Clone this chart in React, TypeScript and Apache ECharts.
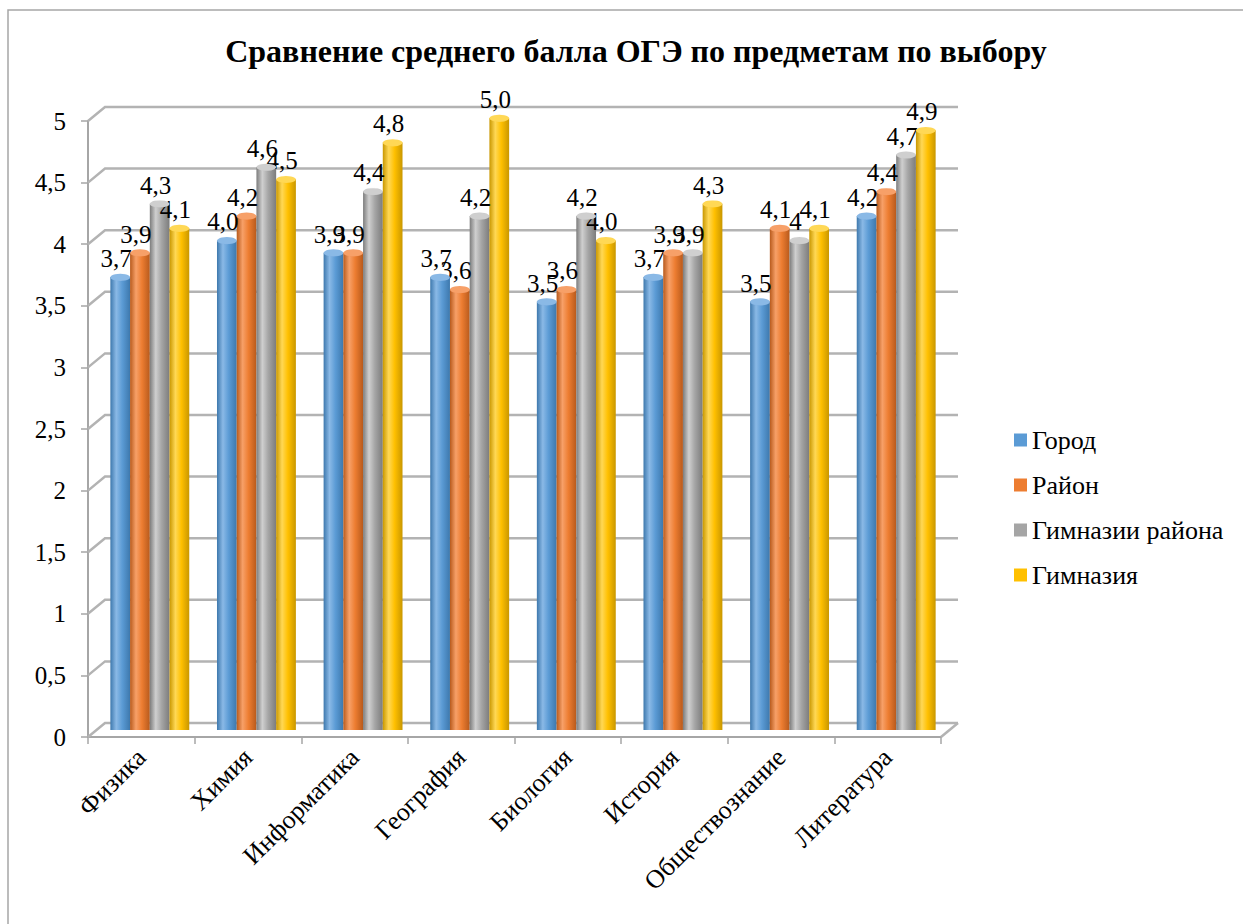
import React, { useEffect, useRef } from "react";
import * as echarts from "echarts";

const categories = ["Физика", "Химия", "Информатика", "География", "Биология", "История", "Обществознание", "Литература"];
const seriesNames = ["Город", "Район", "Гимназии района", "Гимназия"];
const gorod = [3.7, 4.0, 3.9, 3.7, 3.5, 3.7, 3.5, 4.2];
const raion = [3.9, 4.2, 3.9, 3.6, 3.6, 3.9, 4.1, 4.4];
const gymRaiona = [4.3, 4.6, 4.4, 4.2, 4.2, 3.9, 4.0, 4.7];
const gymnasia = [4.1, 4.5, 4.8, 5.0, 4.0, 4.3, 4.1, 4.9];
const yTicks = [0, 0.5, 1, 1.5, 2, 2.5, 3, 3.5, 4, 4.5, 5];
// label shown without decimal in the source
const plainLabel = { series: "Гимназии района", category: "Обществознание" };

const colors = ["#5b9bd5", "#ed7d31", "#a5a5a5", "#ffc000"];
const darks = ["#3d78ad", "#b85a1c", "#7c7c7c", "#c99700"];
const lights = ["#8ab9e6", "#f7a068", "#cfcfcf", "#ffd855"];

const FONT = "Liberation Serif";

export default function App() {
  const ref = useRef<HTMLDivElement>(null);
  useEffect(() => {
    if (!ref.current) return;
    const chart = echarts.init(ref.current, null, { renderer: "svg" });
    const values = [gorod, raion, gymRaiona, gymnasia];
    const OX = 17;
    const OY = -14;

    const barSeries = values.map((vals, i) => ({
      type: "bar",
      name: seriesNames[i],
      xAxisIndex: 1,
      yAxisIndex: 1,
      barGap: "0%",
      barCategoryGap: "26%",
      z: 3,
      data: vals,
      itemStyle: {
        color: {
          type: "linear", x: 0, y: 0, x2: 1, y2: 0,
          colorStops: [
            { offset: 0, color: darks[i] },
            { offset: 0.3, color: lights[i] },
            { offset: 0.6, color: colors[i] },
            { offset: 1, color: darks[i] },
          ],
        },
      },
      label: {
        show: true,
        position: "top",
        distance: 6,
        offset: [-4, 0],
        color: "#000",
        fontFamily: FONT,
        fontSize: 25,
        formatter: (p: any) => {
          if (p.seriesName === plainLabel.series && p.name === plainLabel.category) return String(p.value);
          return Number(p.value).toFixed(1).replace(".", ",");
        },
      },
    }));

    const capSeries = values.map((vals, i) => ({
      type: "pictorialBar",
      name: seriesNames[i],
      xAxisIndex: 1,
      yAxisIndex: 1,
      barGap: "0%",
      barCategoryGap: "26%",
      symbol: "circle",
      symbolSize: ["100%", 7],
      symbolPosition: "end",
      symbolOffset: [0, "-50%"],
      z: 4,
      silent: true,
      data: vals,
      itemStyle: { color: lights[i], borderColor: darks[i], borderWidth: 1 },
    }));

    const option: any = {
      animation: false,
      backgroundColor: "#fff",
      textStyle: { fontFamily: FONT },
      title: {
        text: "Сравнение среднего балла ОГЭ по предметам по выбору",
        left: 631,
        top: 30,
        textAlign: "center",
        textStyle: { fontFamily: FONT, fontWeight: "bold", fontSize: 32, color: "#000" },
      },
      legend: {
        orient: "vertical",
        left: 1009,
        top: 422,
        itemWidth: 13,
        itemHeight: 13,
        itemGap: 19,
        icon: "rect",
        textStyle: { fontFamily: FONT, fontSize: 26, color: "#000", lineHeight: 26 },
        data: seriesNames.map((n, i) => ({ name: n, itemStyle: { color: colors[i] } })),
      },
      grid: [
        { left: 88, top: 121, width: 853, height: 616 },
        { left: 96.5, top: 118, width: 853, height: 612 },
      ],
      xAxis: [
        {
          type: "category",
          gridIndex: 0,
          data: categories,
          axisLine: { show: true, lineStyle: { color: "#a6a6a6", width: 2 } },
          axisTick: { show: true, length: 7, interval: 0, lineStyle: { color: "#a6a6a6", width: 1.5 } },
          axisLabel: { interval: 0, rotate: 45, margin: 16, fontFamily: FONT, fontSize: 26, color: "#000" },
        },
        { type: "category", gridIndex: 1, data: categories, show: false },
      ],
      yAxis: [
        {
          type: "value",
          gridIndex: 0,
          min: 0,
          max: 5,
          interval: 0.5,
          axisLine: { show: true, lineStyle: { color: "#a6a6a6", width: 2 } },
          axisTick: { show: true, length: 7, lineStyle: { color: "#a6a6a6", width: 1.5 } },
          splitLine: { show: false },
          axisLabel: {
            margin: 22,
            fontFamily: FONT,
            fontSize: 25,
            color: "#000",
            formatter: (v: number) => String(v).replace(".", ","),
          },
        },
        { type: "value", gridIndex: 1, min: 0, max: 5, show: false },
      ],
      graphic: [
        {
          type: "rect",
          shape: { x: 8, y: 10, width: 1260, height: 940 },
          style: { fill: "none", stroke: "#a6a6a6", lineWidth: 1.5 },
          silent: true,
        },
      ],
      series: [
        {
          type: "custom",
          xAxisIndex: 0,
          yAxisIndex: 0,
          z: 1,
          clip: false,
          silent: true,
          encode: { x: 0, y: 1 },
          data: yTicks.map((v) => [0, v]),
          renderItem: (params: any, api: any) => {
            const cs = params.coordSys;
            const v = api.value(1);
            const y = api.coord([0, v])[1];
            const stroke = { stroke: "#b3b3b3", lineWidth: 2.5, fill: null };
            const children: any[] = [
              {
                type: "polyline",
                shape: { points: [[cs.x, y], [cs.x + OX, y + OY], [cs.x + cs.width + OX, y + OY]] },
                style: stroke,
              },
            ];
            if (v === 0) {
              children.push({
                type: "line",
                shape: { x1: cs.x + cs.width, y1: y, x2: cs.x + cs.width + OX, y2: y + OY },
                style: stroke,
              });
            }
            return { type: "group", children };
          },
        },
        ...barSeries,
        ...capSeries,
      ],
    };
    chart.setOption(option);
    return () => chart.dispose();
  }, []);
  return (
    <div
      ref={ref}
      style={{ position: "fixed", left: 0, top: 0, width: 1243, height: 924, background: "#fff" }}
    />
  );
}
